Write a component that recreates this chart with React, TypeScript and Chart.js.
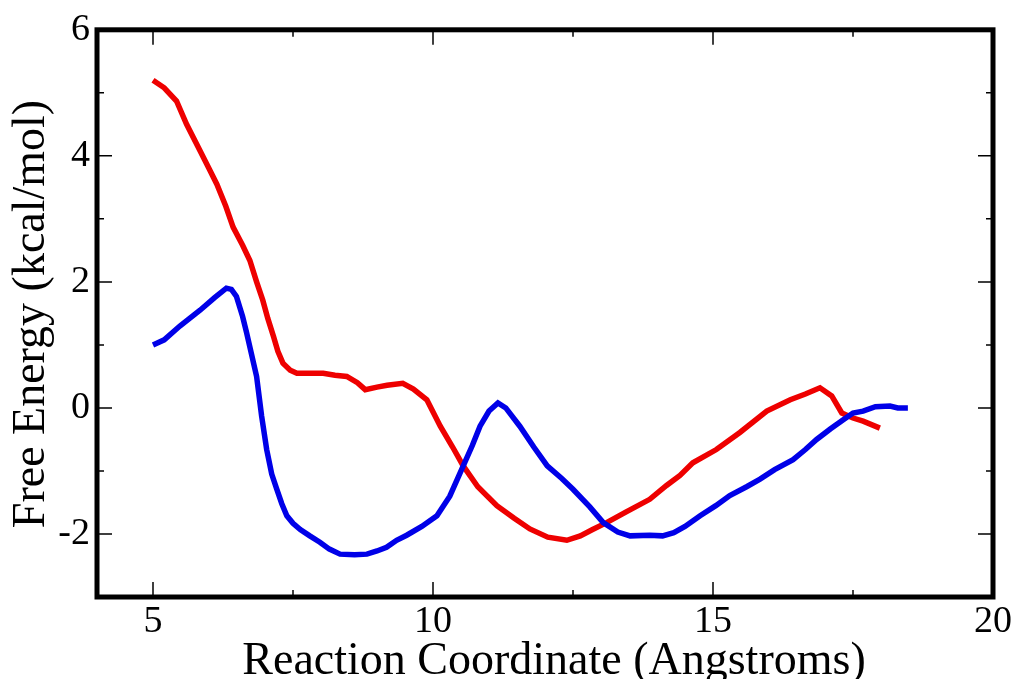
import React, { useEffect, useRef } from "react";
import { Chart, registerables } from "chart.js";

Chart.register(...registerables);

const xTitle = "Reaction Coordinate (Angstroms)";
const yTitle = "Free Energy (kcal/mol)";

const xMajorTicks = [5, 10, 15, 20];
const xMinorTicks = [7.5, 12.5, 17.5];
const yMajorTicks = [-2, 0, 2, 4, 6];
const yMinorTicks = [-3, -1, 1, 3, 5];

const blueX = [5.0, 5.2, 5.48, 5.84, 6.1, 6.31, 6.4, 6.49, 6.6, 6.67, 6.76, 6.85, 6.94, 7.03, 7.12, 7.21, 7.3, 7.39, 7.5, 7.63, 7.8, 7.98, 8.15, 8.34, 8.6, 8.82, 9.0, 9.17, 9.35, 9.53, 9.8, 10.07, 10.3, 10.54, 10.7, 10.84, 11.0, 11.16, 11.3, 11.55, 11.8, 12.04, 12.3, 12.5, 12.8, 13.04, 13.3, 13.52, 13.87, 14.1, 14.3, 14.5, 14.77, 15.05, 15.3, 15.6, 15.84, 16.1, 16.43, 16.65, 16.85, 17.1, 17.32, 17.5, 17.68, 17.9, 18.16, 18.3, 18.48];
const blueY = [1.0, 1.08, 1.3, 1.55, 1.75, 1.9, 1.88, 1.77, 1.45, 1.2, 0.85, 0.5, -0.13, -0.66, -1.05, -1.29, -1.52, -1.71, -1.83, -1.93, -2.03, -2.13, -2.24, -2.32, -2.33, -2.32, -2.27, -2.21, -2.1, -2.02, -1.88, -1.71, -1.4, -0.92, -0.6, -0.29, -0.05, 0.08, 0.0, -0.29, -0.62, -0.92, -1.12, -1.29, -1.57, -1.82, -1.97, -2.03, -2.02, -2.03, -1.98, -1.88, -1.71, -1.55, -1.39, -1.25, -1.13, -0.98, -0.82, -0.66, -0.5, -0.33, -0.19, -0.08, -0.05, 0.02, 0.03, 0.0, 0.0];

const redX = [5.0, 5.2, 5.42, 5.6, 5.84, 6.0, 6.14, 6.3, 6.43, 6.6, 6.73, 6.85, 6.96, 7.05, 7.15, 7.23, 7.32, 7.45, 7.57, 7.8, 8.04, 8.25, 8.46, 8.65, 8.79, 9.0, 9.18, 9.46, 9.65, 9.89, 10.13, 10.35, 10.54, 10.8, 11.14, 11.45, 11.73, 12.05, 12.39, 12.63, 12.85, 13.1, 13.45, 13.87, 14.17, 14.41, 14.64, 15.06, 15.48, 15.96, 16.38, 16.65, 16.91, 17.12, 17.3, 17.5, 17.68, 17.98];
const redY = [5.2, 5.08, 4.87, 4.5, 4.08, 3.8, 3.55, 3.2, 2.87, 2.58, 2.34, 2.0, 1.71, 1.42, 1.14, 0.9, 0.71, 0.6, 0.55, 0.55, 0.55, 0.52, 0.5, 0.4, 0.29, 0.33, 0.36, 0.39, 0.3, 0.13, -0.29, -0.62, -0.92, -1.25, -1.55, -1.75, -1.92, -2.05, -2.1, -2.03, -1.93, -1.82, -1.65, -1.45, -1.23, -1.07, -0.87, -0.66, -0.39, -0.05, 0.13, 0.22, 0.32, 0.19, -0.08, -0.16, -0.21, -0.32];

const SERIF = '"Liberation Serif", "Times New Roman", Times, serif';

const framePlugin = {
  id: "xmgraceFrame",
  afterDatasetsDraw(chart: any) {
    const { ctx, chartArea } = chart;
    const xs = chart.scales.x;
    const ys = chart.scales.y;
    const { left, right, top, bottom } = chartArea;
    ctx.save();
    ctx.strokeStyle = "#000";
    ctx.lineWidth = 1.5;
    const major = 15;
    const minor = 7;
    const drawX = (v: number, len: number) => {
      const px = xs.getPixelForValue(v);
      ctx.beginPath();
      ctx.moveTo(px, bottom);
      ctx.lineTo(px, bottom - len);
      ctx.moveTo(px, top);
      ctx.lineTo(px, top + len);
      ctx.stroke();
    };
    const drawY = (v: number, len: number) => {
      const py = ys.getPixelForValue(v);
      ctx.beginPath();
      ctx.moveTo(left, py);
      ctx.lineTo(left + len, py);
      ctx.moveTo(right, py);
      ctx.lineTo(right - len, py);
      ctx.stroke();
    };
    xMajorTicks.forEach((v) => drawX(v, major));
    xMinorTicks.forEach((v) => drawX(v, minor));
    yMajorTicks.forEach((v) => drawY(v, major));
    yMinorTicks.forEach((v) => drawY(v, minor));
    ctx.lineWidth = 5;
    ctx.strokeRect(left, top, right - left, bottom - top);
    ctx.fillStyle = "#000";
    ctx.font = `46px ${SERIF}`;
    ctx.textAlign = "center";
    ctx.textBaseline = "alphabetic";
    ctx.fillText(xTitle, 554, 674);
    ctx.translate(44, 314);
    ctx.rotate(-Math.PI / 2);
    ctx.fillText(yTitle, 0, 0);
    ctx.restore();
  },
};

export default function App() {
  const ref = useRef<HTMLCanvasElement | null>(null);
  useEffect(() => {
    if (!ref.current) return;
    const chart = new Chart(ref.current, {
      type: "line",
      data: {
        datasets: [
          {
            label: "blue",
            data: blueX.map((x, i) => ({ x, y: blueY[i] })),
            borderColor: "#0000e8",
            borderWidth: 5.5,
            pointRadius: 0,
            tension: 0,
            fill: false,
          },
          {
            label: "red",
            data: redX.map((x, i) => ({ x, y: redY[i] })),
            borderColor: "#ee0000",
            borderWidth: 5.5,
            pointRadius: 0,
            tension: 0,
            fill: false,
          },
        ],
      },
      options: {
        animation: false,
        responsive: true,
        maintainAspectRatio: false,
        layout: { padding: { top: 25, right: 26, left: 0, bottom: 0 } },
        plugins: { legend: { display: false }, tooltip: { enabled: false } },
        scales: {
          x: {
            type: "linear",
            min: 4,
            max: 20,
            afterFit: (s: any) => {
              s.height = 82;
            },
            afterBuildTicks: (s: any) => {
              s.ticks = xMajorTicks.map((v) => ({ value: v }));
            },
            grid: { display: false, drawTicks: false },
            border: { display: false },
            ticks: {
              autoSkip: false,
              maxRotation: 0,
              padding: 2,
              color: "#000",
              font: { family: SERIF, size: 38 },
            },
          },
          y: {
            type: "linear",
            min: -3,
            max: 6,
            afterFit: (s: any) => {
              s.width = 97;
            },
            afterBuildTicks: (s: any) => {
              s.ticks = yMajorTicks.map((v) => ({ value: v }));
            },
            grid: { display: false, drawTicks: false },
            border: { display: false },
            ticks: {
              autoSkip: false,
              padding: 7,
              color: "#000",
              font: { family: SERIF, size: 38 },
            },
          },
        },
      },
      plugins: [framePlugin],
    });
    return () => chart.destroy();
  }, []);
  return (
    <div style={{ position: "absolute", left: 0, top: 0, width: 1019, height: 679, background: "#fff" }}>
      <canvas ref={ref} />
    </div>
  );
}
